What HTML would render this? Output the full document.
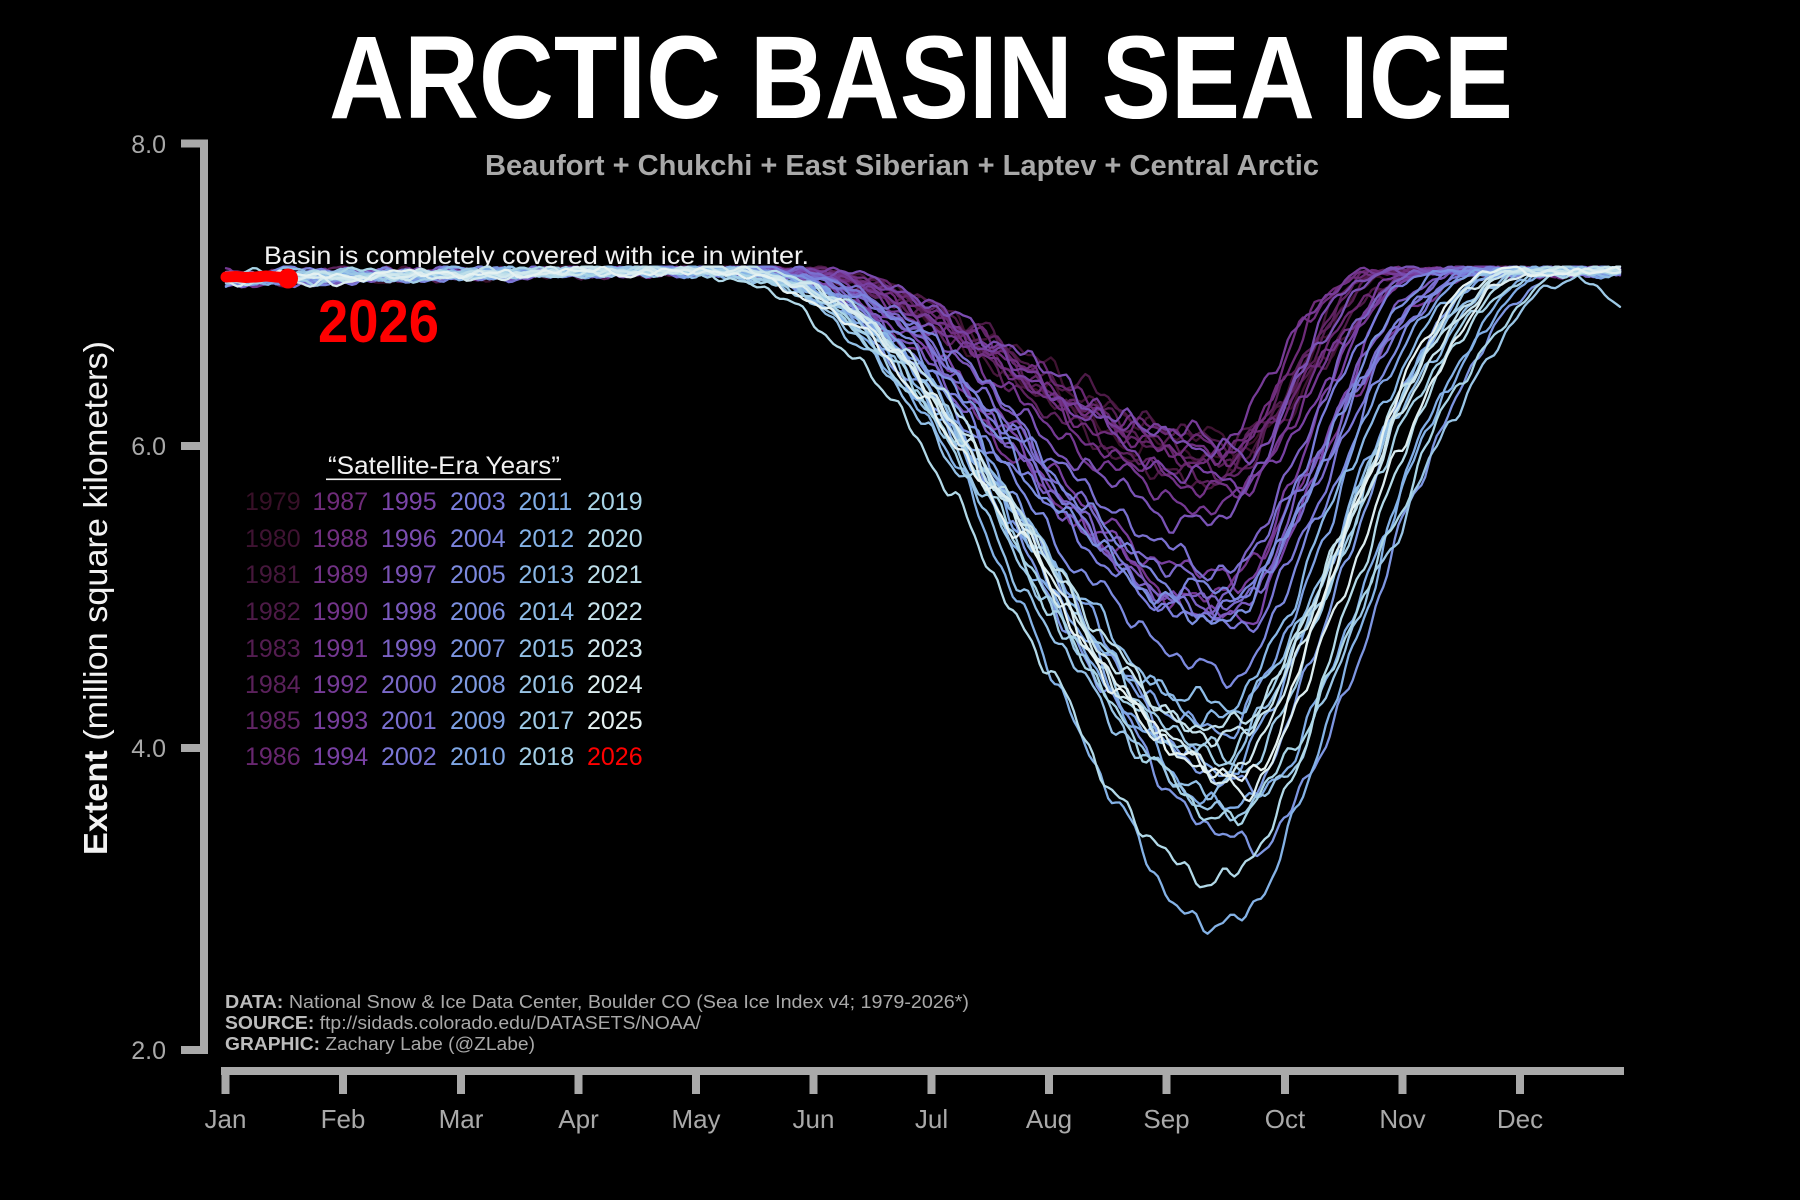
<!DOCTYPE html>
<html><head><meta charset="utf-8">
<style>
html,body{margin:0;padding:0;background:#000;width:1800px;height:1200px;overflow:hidden;}
svg{display:block;}
text{font-family:"Liberation Sans",Arial,sans-serif;}
</style></head>
<body>
<svg id="s" width="1800" height="1200" viewBox="0 0 1800 1200" xmlns="http://www.w3.org/2000/svg">
<rect width="1800" height="1200" fill="#000"/>
<text x="329" y="118" font-size="118" font-weight="bold" fill="#ffffff" textLength="1184" lengthAdjust="spacingAndGlyphs">ARCTIC BASIN SEA ICE</text>
<text x="485" y="175" font-size="29" font-weight="bold" fill="#a9a9a9" textLength="834" lengthAdjust="spacingAndGlyphs">Beaufort + Chukchi + East Siberian + Laptev + Central Arctic</text>

<!-- y axis -->
<g fill="#a9a9a9">
<rect x="200" y="139.5" width="8" height="914.5"/>
<rect x="181" y="139.5" width="27" height="8"/>
<rect x="181" y="442" width="27" height="8"/>
<rect x="181" y="744" width="27" height="8"/>
<rect x="181" y="1046" width="27" height="8"/>
</g>
<g font-size="25" fill="#a9a9a9" text-anchor="end">
<text x="166" y="153">8.0</text>
<text x="166" y="455">6.0</text>
<text x="166" y="757">4.0</text>
<text x="166" y="1059">2.0</text>
</g>
<text transform="translate(107,598) rotate(-90)" text-anchor="middle" font-size="33" fill="#f2f2f2" textLength="514" lengthAdjust="spacingAndGlyphs"><tspan font-weight="bold">Extent</tspan> (million square kilometers)</text>

<!-- x axis -->
<g fill="#a9a9a9">
<rect x="221" y="1067" width="1403" height="8"/>
<rect x="221.5" y="1067" width="8" height="27"/>
<rect x="339" y="1067" width="8" height="27"/>
<rect x="457" y="1067" width="8" height="27"/>
<rect x="574.5" y="1067" width="8" height="27"/>
<rect x="692" y="1067" width="8" height="27"/>
<rect x="809.5" y="1067" width="8" height="27"/>
<rect x="927.5" y="1067" width="8" height="27"/>
<rect x="1045" y="1067" width="8" height="27"/>
<rect x="1162.5" y="1067" width="8" height="27"/>
<rect x="1281" y="1067" width="8" height="27"/>
<rect x="1398.5" y="1067" width="8" height="27"/>
<rect x="1516" y="1067" width="8" height="27"/>
</g>
<g font-size="26" fill="#a9a9a9" text-anchor="middle">
<text x="225.5" y="1128">Jan</text>
<text x="343" y="1128">Feb</text>
<text x="461" y="1128">Mar</text>
<text x="578.5" y="1128">Apr</text>
<text x="696" y="1128">May</text>
<text x="813.5" y="1128">Jun</text>
<text x="931.5" y="1128">Jul</text>
<text x="1049" y="1128">Aug</text>
<text x="1166.5" y="1128">Sep</text>
<text x="1285" y="1128">Oct</text>
<text x="1402.5" y="1128">Nov</text>
<text x="1520" y="1128">Dec</text>
</g>

<!-- footer -->
<g font-size="18" fill="#a9a9a9">
<text x="225" y="1008" textLength="744" lengthAdjust="spacingAndGlyphs"><tspan font-weight="bold" fill="#bdbdbd">DATA:</tspan> National Snow &amp; Ice Data Center, Boulder CO (Sea Ice Index v4; 1979-2026*)</text>
<text x="225" y="1029" textLength="476" lengthAdjust="spacingAndGlyphs"><tspan font-weight="bold" fill="#bdbdbd">SOURCE:</tspan> ftp://sidads.colorado.edu/DATASETS/NOAA/</text>
<text x="225" y="1050" textLength="310" lengthAdjust="spacingAndGlyphs"><tspan font-weight="bold" fill="#bdbdbd">GRAPHIC:</tspan> Zachary Labe (@ZLabe)</text>
</g>

<!-- annotation -->
<text x="264" y="264" font-size="25" fill="#f2f2f2" textLength="545" lengthAdjust="spacingAndGlyphs">Basin is completely covered with ice in winter.</text>

<!-- legend -->
<text x="328" y="474" font-size="25" fill="#f2f2f2" textLength="232" lengthAdjust="spacingAndGlyphs">“Satellite-Era Years”</text>
<rect x="326" y="478.5" width="235" height="1.6" fill="#f2f2f2"/>
<g font-size="25">
<text x="245" y="510" fill="#381028">1979</text>
<text x="245" y="547" fill="#3f1332">1980</text>
<text x="245" y="583" fill="#46173c">1981</text>
<text x="245" y="620" fill="#4d1a47">1982</text>
<text x="245" y="657" fill="#541d51">1983</text>
<text x="245" y="693" fill="#5b215b">1984</text>
<text x="245" y="729" fill="#612465">1985</text>
<text x="245" y="765" fill="#682770">1986</text>

<text x="312.5" y="510" fill="#6e2b79">1987</text>
<text x="312.5" y="547" fill="#702e7f">1988</text>
<text x="312.5" y="583" fill="#713185">1989</text>
<text x="312.5" y="620" fill="#73348b">1990</text>
<text x="312.5" y="657" fill="#743891">1991</text>
<text x="312.5" y="693" fill="#763b97">1992</text>
<text x="312.5" y="729" fill="#773e9d">1993</text>
<text x="312.5" y="765" fill="#7841a3">1994</text>

<text x="381" y="510" fill="#7a45a9">1995</text>
<text x="381" y="547" fill="#7a4cb0">1996</text>
<text x="381" y="583" fill="#7a53b6">1997</text>
<text x="381" y="620" fill="#7a5abd">1998</text>
<text x="381" y="657" fill="#7a61c3">1999</text>
<text x="381" y="693" fill="#7a69c9">2000</text>
<text x="381" y="729" fill="#7a70d0">2001</text>
<text x="381" y="765" fill="#7a77d6">2002</text>

<text x="450" y="510" fill="#7a7edc">2003</text>
<text x="450" y="547" fill="#7b84dd">2004</text>
<text x="450" y="583" fill="#7c8adf">2005</text>
<text x="450" y="620" fill="#7c90e0">2006</text>
<text x="450" y="657" fill="#7d96e1">2007</text>
<text x="450" y="693" fill="#7e9be2">2008</text>
<text x="450" y="729" fill="#7ea1e3">2009</text>
<text x="450" y="765" fill="#7fa7e5">2010</text>

<text x="518.5" y="510" fill="#80ade6">2011</text>
<text x="518.5" y="547" fill="#84b2e6">2012</text>
<text x="518.5" y="583" fill="#89b7e6">2013</text>
<text x="518.5" y="620" fill="#8ebce6">2014</text>
<text x="518.5" y="657" fill="#93c0e6">2015</text>
<text x="518.5" y="693" fill="#99c5e6">2016</text>
<text x="518.5" y="729" fill="#9ecae6">2017</text>
<text x="518.5" y="765" fill="#a3cfe6">2018</text>

<text x="587" y="510" fill="#a8d4e6">2019</text>
<text x="587" y="547" fill="#b2d9e8">2020</text>
<text x="587" y="583" fill="#bddeea">2021</text>
<text x="587" y="620" fill="#c7e3ec">2022</text>
<text x="587" y="657" fill="#d1e8ee">2023</text>
<text x="587" y="693" fill="#dcedf0">2024</text>
<text x="587" y="729" fill="#e6f2f2">2025</text>
<text x="587" y="765" fill="#ff0000">2026</text>
</g>

<!-- data lines -->
<g id="lines" fill="none" stroke-width="2.3" stroke-linejoin="round" stroke-linecap="round"></g>

<!-- 2026 -->
<path d="M226 277 L236 276.5 L246 277.5 L256 277 L266 276 L276 277 L288 278" fill="none" stroke="#ff0000" stroke-width="11" stroke-linecap="round" stroke-linejoin="round"/>
<circle cx="288" cy="278.5" r="10" fill="#ff0000"/>
<text x="318" y="342" font-size="60" font-weight="bold" fill="#ff0000" textLength="121" lengthAdjust="spacingAndGlyphs">2026</text>
</svg>
<script>
(function(){
var cols=["#381028","#3f1332","#46173c","#4d1a47","#541d51","#5b215b","#612465","#682770",
"#6e2b79","#702e7f","#713185","#73348b","#743891","#763b97","#773e9d","#7841a3",
"#7a45a9","#7a4cb0","#7a53b6","#7a5abd","#7a61c3","#7a69c9","#7a70d0","#7a77d6",
"#7a7edc","#7b84dd","#7c8adf","#7c90e0","#7d96e1","#7e9be2","#7ea1e3","#7fa7e5",
"#80ade6","#84b2e6","#89b7e6","#8ebce6","#93c0e6","#99c5e6","#9ecae6","#a3cfe6",
"#a8d4e6","#b2d9e8","#bddeea","#c7e3ec","#d1e8ee","#dcedf0","#e6f2f2"];
var mins=[5.9,6.0,5.75,6.05,5.9,5.8,5.85,6.0,
5.9,5.95,5.7,5.0,5.6,6.05,5.1,5.75,
4.85,5.95,5.5,4.9,4.95,5.0,5.2,4.8,
4.85,5.0,4.5,4.85,3.35,3.75,4.1,3.85,
3.6,2.8,4.2,4.25,3.75,3.55,3.9,3.95,
3.55,3.1,4.1,4.05,3.85,3.75,3.8];
function rng(a){return function(){a|=0;a=a+0x6D2B79F5|0;var t=Math.imul(a^a>>>15,1|a);t=t+Math.imul(t^t>>>7,61|t)^t;return((t^t>>>14)>>>0)/4294967296;};}
var NS="http://www.w3.org/2000/svg";
var g=document.getElementById("lines");
var X0=226,X1=1620,N=365;
function Y(v){return 1050-(v-2)*151.08;}
for(var i=0;i<47;i++){
 var r=rng(7919*(i+3));
 var yr=1979+i;
 var W=7.165-0.015*r();
 var Vm=mins[i];
 var D=W-Vm;
 var s=Math.max(0,Math.min(1.3,(D-1.2)/2.2));
 var xa=790-90*s+(r()-0.5)*50;
 var p=1+0.3*s;
 var xm=1230+(r()-0.5)*44;
 var xf=1400+135*s+(r()-0.5)*80;
 if(yr==2007){xm=1262;}
 if(yr==2012){xa=690;xm=1232;}
 if(yr==2020){xa=640;xm=1228;}
 if(yr==2016){xf=1600;}
 var per=[5,8.5,14,24,40],amp=[0.22,0.3,0.35,0.35,0.3],ph=[];
 for(var k=0;k<5;k++)ph.push(r()*6.283);
 var early=0.09*r();
 var dd="";
 for(var d=0;d<=N;d++){
  var x=X0+(X1-X0)*d/N;
  var f,t;
  if(x<xa)f=0;
  else if(x<xm){t=(x-xa)/(xm-xa);f=(1-Math.cos(Math.PI*Math.pow(t,p)))/2;}
  else if(x<xf){t=(x-xm)/(xf-xm);f=1-(1-Math.cos(Math.PI*Math.pow(t,0.8)))/2;}
  else f=0;
  var base=W-D*f;
  if(d<110)base-=early*(1-d/110);
  var n=0;for(k=0;k<5;k++)n+=amp[k]*Math.sin(6.283*d/per[k]+ph[k]);
  var env=0.035+0.06*Math.min(1,f*3);
  var v=base+env*n;
  if(yr==2017&&x>1570)v-=0.2*(x-1570)/50;
  if(v>7.185)v=7.185;
  dd+=(d?"L":"M")+x.toFixed(1)+" "+Y(v).toFixed(1);
 }
 var pth=document.createElementNS(NS,"path");
 pth.setAttribute("d",dd);
 pth.setAttribute("stroke",cols[i]);
 g.appendChild(pth);
}
})();
</script>
</body></html>
